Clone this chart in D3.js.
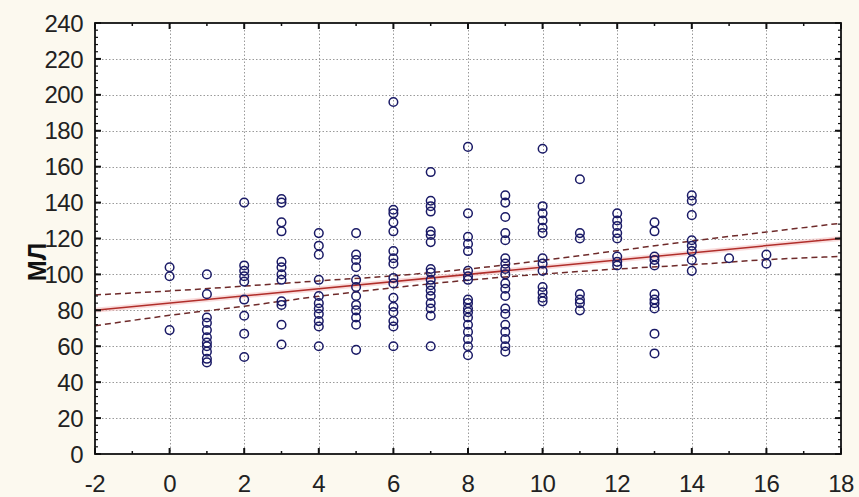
<!DOCTYPE html>
<html><head><meta charset="utf-8">
<script src="https://cdn.jsdelivr.net/npm/d3@7"></script>
<style>
html,body{margin:0;padding:0;background:#fcf9ef;}
svg{display:block;}
</style></head>
<body>
<svg id="chart" width="859" height="497"></svg>
<script>
// ---- data ----
const xLevels = [0,1,2,3,4,5,6,7,8,9,10,11,12,13,14,15,16];
const yByLevel = [
  [104, 99, 69],
  [100, 89, 76, 73, 69, 65, 62, 60, 57, 53, 51],
  [140, 105, 102, 99, 96, 86, 77, 67, 54],
  [142, 140, 129, 124, 107, 104, 100, 97, 85, 83, 72, 61],
  [123, 116, 111, 97, 88, 84, 81, 78, 74, 71, 60],
  [123, 111, 108, 104, 97, 93, 88, 83, 80, 76, 72, 58],
  [196, 136, 134, 129, 124, 113, 109, 106, 98, 95, 87, 82, 79, 74, 71, 60],
  [157, 141, 138, 135, 124, 122, 118, 103, 101, 97, 94, 91, 88, 84, 81, 77, 60],
  [171, 134, 121, 117, 113, 102, 99, 97, 86, 84, 81, 79, 76, 72, 68, 64, 60, 55],
  [144, 140, 132, 123, 119, 109, 106, 103, 100, 95, 92, 88, 81, 78, 72, 68, 64, 60, 57],
  [170, 138, 134, 130, 126, 123, 109, 106, 102, 93, 90, 87, 85],
  [153, 123, 120, 89, 86, 84, 80],
  [134, 130, 127, 123, 120, 110, 107, 105],
  [129, 124, 110, 108, 105, 89, 86, 84, 81, 67, 56],
  [144, 141, 133, 119, 116, 113, 108, 102],
  [109],
  [111, 106]
];
const fitX = [-2, 18];
const fitY = [80, 120];
const bandX = [-2, 0, 2, 4, 6, 8, 10, 12, 14, 16, 18];
const bandUpper = [88.6, 90.8, 93.5, 96.4, 99.2, 103, 107.8, 113.2, 118.6, 123.6, 128.5];
const bandLower = [71.4, 77.2, 82.3, 87.8, 92.6, 96.8, 100.2, 103, 105.4, 108.2, 110];
const xTicks = [-2, 0, 2, 4, 6, 8, 10, 12, 14, 16, 18];
const yTicks = [0, 20, 40, 60, 80, 100, 120, 140, 160, 180, 200, 220, 240];
const yTitle = "МЛ";

// ---- layout ----
const L = 95, R = 841, T = 23, B = 454;
const svg = d3.select("#chart");
const x = d3.scaleLinear().domain([-2, 18]).range([L, R]);
const y = d3.scaleLinear().domain([0, 240]).range([B, T]);

svg.append("rect").attr("width", 859).attr("height", 497).attr("fill", "#fcf9ef");
svg.append("rect").attr("x", L).attr("y", T).attr("width", R - L).attr("height", B - T).attr("fill", "#ffffff");

// grid
const grid = svg.append("g").attr("stroke", "#9a9a9a").attr("stroke-width", 1).attr("stroke-dasharray", "1.5,2");
grid.selectAll(".gx").data(xTicks.filter(d => d > -2 && d < 18)).join("line")
  .attr("x1", d => Math.round(x(d)) + 0.5).attr("x2", d => Math.round(x(d)) + 0.5)
  .attr("y1", T).attr("y2", B);
grid.selectAll(".gy").data(yTicks.filter(d => d > 0 && d < 240)).join("line")
  .attr("y1", d => Math.round(y(d)) + 0.5).attr("y2", d => Math.round(y(d)) + 0.5)
  .attr("x1", L).attr("x2", R);

// regression + bands
const band = (arr) => d3.line().x((d, i) => x(bandX[i])).y(d => y(d)).curve(d3.curveMonotoneX)(arr);
svg.append("path").attr("d", d3.line().x((d, i) => x(fitX[i])).y(d => y(d))(fitY))
  .attr("fill", "none").attr("stroke", "#f5c4c4").attr("stroke-width", 5).attr("opacity", 0.6);
svg.append("path").attr("d", band(bandUpper)).attr("fill", "none")
  .attr("stroke", "#6e2a2a").attr("stroke-width", 1.5).attr("stroke-dasharray", "6,4");
svg.append("path").attr("d", band(bandLower)).attr("fill", "none")
  .attr("stroke", "#6e2a2a").attr("stroke-width", 1.5).attr("stroke-dasharray", "6,4");
svg.append("path").attr("d", d3.line().x((d, i) => x(fitX[i])).y(d => y(d))(fitY))
  .attr("fill", "none").attr("stroke", "#b02e2a").attr("stroke-width", 1.5);

// points
const pts = [];
xLevels.forEach((xv, i) => yByLevel[i].forEach(v => pts.push([xv, v])));
svg.append("g").selectAll("circle").data(pts).join("circle")
  .attr("cx", d => x(d[0])).attr("cy", d => y(d[1])).attr("r", 4.3)
  .attr("fill", "none").attr("stroke", "#1a1a66").attr("stroke-width", 1.5);

// axes (ticks pointing inward)
const yMinor = d3.range(0, 241, 4);
const xMinor = d3.range(-2, 19, 1);
const ax = svg.append("g").attr("stroke", "#111").attr("stroke-width", 1.5);
ax.selectAll(".ylm").data(yMinor).join("line")
  .attr("x1", L).attr("x2", L + 3).attr("y1", d => y(d)).attr("y2", d => y(d)).attr("stroke-width", 1.2);
ax.selectAll(".ylM").data(yTicks).join("line")
  .attr("x1", L).attr("x2", L + 6).attr("y1", d => y(d)).attr("y2", d => y(d)).attr("stroke-width", 2);
ax.selectAll(".yrm").data(yMinor).join("line")
  .attr("x1", R).attr("x2", R - 3).attr("y1", d => y(d)).attr("y2", d => y(d)).attr("stroke-width", 1.2);
ax.selectAll(".yrM").data(yTicks).join("line")
  .attr("x1", R).attr("x2", R - 6).attr("y1", d => y(d)).attr("y2", d => y(d)).attr("stroke-width", 2);
ax.selectAll(".xbm").data(xMinor).join("line")
  .attr("x1", d => x(d)).attr("x2", d => x(d)).attr("y1", B).attr("y2", d => B - (d % 2 === 0 ? 6 : 3))
  .attr("stroke-width", d => d % 2 === 0 ? 2 : 1.5);
ax.selectAll(".xtm").data(xMinor).join("line")
  .attr("x1", d => x(d)).attr("x2", d => x(d)).attr("y1", T).attr("y2", d => T + (d % 2 === 0 ? 6 : 3))
  .attr("stroke-width", d => d % 2 === 0 ? 2 : 1.5);
svg.append("rect").attr("x", L).attr("y", T).attr("width", R - L).attr("height", B - T)
  .attr("fill", "none").attr("stroke", "#111").attr("stroke-width", 1.8);

// tick labels
const lab = svg.append("g").attr("font-family", "Arial, 'Liberation Sans', sans-serif")
  .attr("font-size", 24).attr("fill", "#222");
lab.selectAll(".yl").data(yTicks).join("text")
  .attr("x", 83).attr("y", d => y(d)).attr("dy", "0.36em").attr("text-anchor", "end")
  .attr("letter-spacing", "-0.5").text(d => d);
lab.selectAll(".xl").data(xTicks).join("text")
  .attr("x", d => x(d)).attr("y", 492).attr("text-anchor", "middle")
  .attr("letter-spacing", "-0.5").text(d => d);

// axis title
svg.append("text").attr("transform", "translate(46,262) rotate(-90)")
  .attr("text-anchor", "middle").attr("font-family", "Arial, 'Liberation Sans', sans-serif")
  .attr("font-weight", "bold").attr("font-size", 25).attr("fill", "#111").text(yTitle);
</script>
</body></html>
